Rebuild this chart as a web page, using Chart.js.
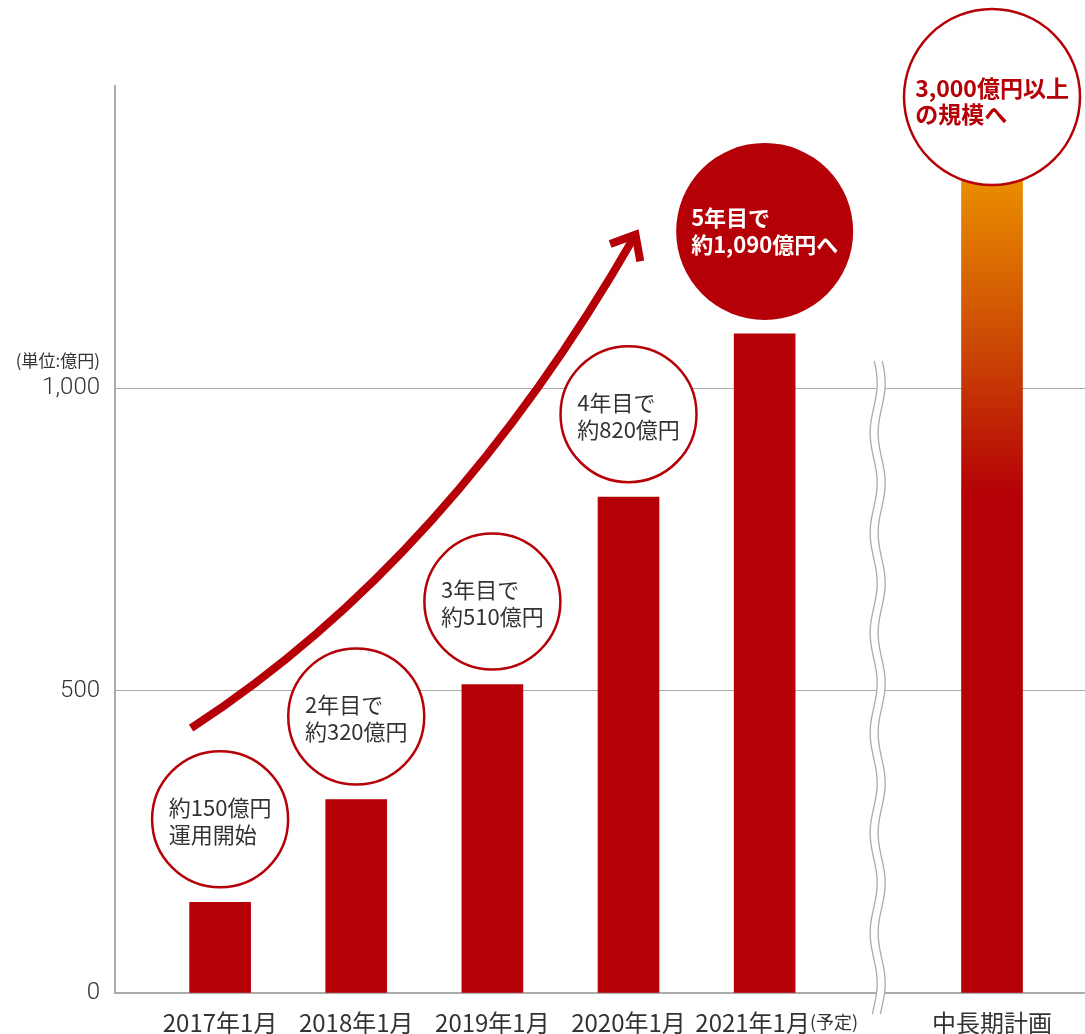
<!DOCTYPE html>
<html>
<head>
<meta charset="utf-8">
<script src="https://cdn.jsdelivr.net/npm/chart.js@4/dist/chart.umd.min.js"></script>
<style>
html,body{margin:0;padding:0;background:#fff;}
#wrap{width:1085px;height:1034px;position:relative;}
</style>
</head>
<body>
<div id="wrap"><canvas id="c" width="1085" height="1034"></canvas></div>
<script>
// ---- data ----
const categories = ['2017年1月','2018年1月','2019年1月','2020年1月','2021年1月','中長期計画'];
const categoryNotes = ['','','','','(予定)',''];
const categoryPositions = [0,1,2,3,4,5.67];   // category slots (axis break between 4 and 5.67)
const values = [150,320,510,820,1090,3000];     // 億円
const circleLines = [
  ['約150億円','運用開始'],
  ['2年目で','約320億円'],
  ['3年目で','約510億円'],
  ['4年目で','約820億円'],
  ['5年目で','約1,090億円へ'],
  ['3,000億円以上','の規模へ']
];
const yTicks = [0,500,1000];
const unitLabel = '(単位:億円)';
const breakPosition = 4.83;

// ---- styles ----
const RED = '#b40006';
const GRAY = '#ababab';
const TEXT = '#333333';
const JP = '"Noto Sans CJK JP","Noto Sans",sans-serif';
const NUM = 'Roboto,"Noto Sans",sans-serif';

const fmt = v => String(v).replace(/\B(?=(\d{3})+(?!\d))/g, ',');

const decor = {
  id: 'decor',
  afterDatasetsDraw(chart) {
    const {ctx, chartArea, scales: {x, y}} = chart;
    ctx.save();

    // growth arrow (quadratic curve in data space)
    const p0 = [x.getPixelForValue(-0.213), y.getPixelForValue(438)];
    const p1 = [x.getPixelForValue(1.684), y.getPixelForValue(716)];
    const p2 = [x.getPixelForValue(3.051), y.getPixelForValue(1254)];
    ctx.strokeStyle = RED;
    ctx.lineWidth = 8;
    ctx.lineCap = 'butt';
    ctx.lineJoin = 'miter';
    ctx.beginPath();
    ctx.moveTo(p0[0], p0[1]);
    ctx.quadraticCurveTo(p1[0], p1[1], p2[0], p2[1]);
    ctx.stroke();
    const back = Math.atan2(p1[1]-p2[1], p1[0]-p2[0]);
    const al = 27, aa = 40*Math.PI/180;
    ctx.beginPath();
    ctx.moveTo(p2[0]+al*Math.cos(back+aa), p2[1]+al*Math.sin(back+aa));
    ctx.lineTo(p2[0], p2[1]);
    ctx.lineTo(p2[0]+al*Math.cos(back-aa), p2[1]+al*Math.sin(back-aa));
    ctx.stroke();

    // circles
    const meta = chart.getDatasetMeta(0);
    ctx.textAlign = 'left';
    ctx.textBaseline = 'middle';
    meta.data.forEach((bar, i) => {
      const cx = bar.x;
      let r, cy, fill, stroke, color, font, lh, dy;
      if (i === values.length - 1) {
        r = 88; cy = chartArea.top + 11;
        fill = '#fff'; stroke = RED; color = RED; font = 'bold 23px ' + JP; lh = 26; dy = 4;
      } else if (i === values.length - 2) {
        r = 88.5; cy = bar.y - 14 - r;
        fill = RED; stroke = null; color = '#fff'; font = 'bold 22px ' + JP; lh = 27; dy = 0;
      } else {
        r = 68; cy = bar.y - 15 - r;
        fill = '#fff'; stroke = RED; color = TEXT; font = '22px ' + JP; lh = 27; dy = 2;
      }
      ctx.beginPath();
      ctx.arc(cx, cy, r, 0, Math.PI*2);
      ctx.fillStyle = fill;
      ctx.fill();
      if (stroke) { ctx.strokeStyle = stroke; ctx.lineWidth = 2.5; ctx.stroke(); }
      ctx.font = font;
      ctx.fillStyle = color;
      const lines = circleLines[i];
      const w = Math.max(...lines.map(l => ctx.measureText(l).width));
      lines.forEach((l, k) => {
        ctx.fillText(l, cx - w/2, cy + dy + (k - (lines.length-1)/2)*lh);
      });
    });

    // axis break (double wavy line)
    const bx = x.getPixelForValue(breakPosition);
    const yTop = y.getPixelForValue(1045), yBot = chartArea.bottom + 22;
    const wave = (yy, off) => bx + off + 3.5*Math.sin(2*Math.PI*(yy-383)/100 + Math.PI/2);
    ctx.beginPath();
    for (let yy = yTop; yy <= yBot; yy += 1) ctx.lineTo(wave(yy,-4), yy);
    for (let yy = yBot; yy >= yTop; yy -= 1) ctx.lineTo(wave(yy,4), yy);
    ctx.closePath();
    ctx.fillStyle = '#fff';
    ctx.fill();
    ctx.strokeStyle = GRAY;
    ctx.lineWidth = 1.3;
    [-4, 4].forEach(off => {
      ctx.beginPath();
      for (let yy = yTop; yy <= yBot; yy += 1) ctx.lineTo(wave(yy,off), yy);
      ctx.stroke();
    });

    // category labels
    ctx.fillStyle = TEXT;
    ctx.textBaseline = 'middle';
    const ly = chartArea.bottom + 30;
    categories.forEach((c, i) => {
      let cx = x.getPixelForValue(categoryPositions[i]);
      ctx.font = '24px ' + JP;
      const w = ctx.measureText(c).width;
      let nw = 0;
      if (categoryNotes[i]) {
        ctx.font = '18px ' + JP;
        nw = ctx.measureText(categoryNotes[i]).width;
        cx -= nw / 4;
      }
      ctx.font = '24px ' + JP;
      ctx.textAlign = 'center';
      ctx.fillText(c, cx, ly);
      if (categoryNotes[i]) {
        ctx.font = '18px ' + JP;
        ctx.textAlign = 'left';
        ctx.fillText(categoryNotes[i], cx + w/2, ly - 1);
      }
    });

    // unit label
    ctx.font = '17px ' + JP;
    ctx.textAlign = 'right';
    ctx.fillText(unitLabel, chartArea.left - 15, y.getPixelForValue(1000) - 28);

    ctx.restore();
  }
};

const planIndex = values.length - 1;
new Chart(document.getElementById('c'), {
  type: 'bar',
  data: {
    datasets: [{
      data: values.map((v, i) => ({x: categoryPositions[i], y: v})),
      barThickness: 61,
      borderWidth: 0,
      backgroundColor: (c) => {
        if (c.dataIndex !== planIndex) return RED;
        const ch = c.chart;
        if (!ch.chartArea) return RED;
        const ys = ch.scales.y;
        const g = ch.ctx.createLinearGradient(0, ys.getPixelForValue(1335), 0, ys.getPixelForValue(820));
        g.addColorStop(0, '#e98b00');
        g.addColorStop(0.5, '#cc4a04');
        g.addColorStop(1, RED);
        return g;
      }
    }]
  },
  options: {
    responsive: false,
    devicePixelRatio: 1,
    animation: false,
    layout: {padding: {top: 86, right: 0, left: 0, bottom: 0}},
    plugins: {legend: {display: false}, tooltip: {enabled: false}},
    scales: {
      x: {
        type: 'linear',
        offset: false,
        min: -0.772,
        max: 6.353,
        grid: {display: false},
        ticks: {display: false},
        border: {color: GRAY, width: 2},
        afterFit: s => { s.height = 41; }
      },
      y: {
        min: 0,
        max: 1500,
        afterBuildTicks: s => { s.ticks = yTicks.map(v => ({value: v})); },
        afterFit: s => { s.width = 115; },
        ticks: {
          callback: v => fmt(v),
          color: TEXT,
          padding: 15,
          font: {family: NUM, size: 24, weight: '300'}
        },
        grid: {
          color: c => (c.tick && c.tick.value === 0) ? 'rgba(0,0,0,0)' : GRAY,
          lineWidth: 1,
          drawTicks: false
        },
        border: {color: GRAY, width: 2}
      }
    }
  },
  plugins: [decor]
});
</script>
</body>
</html>
